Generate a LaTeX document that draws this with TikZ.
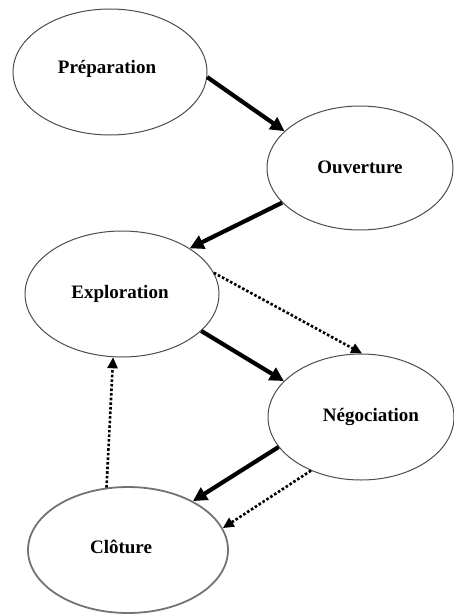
\documentclass[tikz,border=0pt]{standalone}
\usepackage{fontspec}
\setmainfont{Liberation Serif}
\usetikzlibrary{shapes.geometric,arrows.meta}
\tikzset{
  phase/.style={ellipse,draw=black!70,line width=1pt,inner sep=0pt},
  phaselabel/.style={font=\fontsize{19}{22}\selectfont\bfseries},
  solidarrow/.style={line width=4.2pt,-{Triangle[length=14pt,width=14pt]}},
  dotarrow/.style={line width=2.6pt,dash pattern=on 2.6pt off 2.0pt,
    -{Triangle[length=11pt,width=10pt]}},
}
\begin{document}
\begin{tikzpicture}[x=1pt,y=-1pt]
\useasboundingbox (0,0) rectangle (454,615);
\node[phase,minimum width=194pt,minimum height=126pt] (prep) at (110,72) {};
\node[phaselabel] (prept) at (107,69) {Préparation};
\node[phase,minimum width=186pt,minimum height=124pt] (ouv) at (360,168) {};
\node[phaselabel] (ouvt) at (360,167) {Ouverture};
\node[phase,minimum width=194pt,minimum height=126pt] (expl) at (122,294) {};
\node[phaselabel] (explt) at (120,294) {Exploration};
\node[phase,minimum width=186pt,minimum height=126pt] (neg) at (361,417) {};
\node[phaselabel] (negt) at (371,417) {Négociation};
\node[phase,draw=black!55,line width=1.8pt,minimum width=200pt,minimum height=126pt] (clo) at (128,550) {};
\node[phaselabel] (clot) at (121,547) {Clôture};

\draw[solidarrow] (prep.-3) -- (ouv.154);
\draw[solidarrow] (ouv.204) -- (expl.34);
\draw[dotarrow] (expl.13) -- (neg.89);
\draw[solidarrow] (expl.-25) -- (neg.155);
\draw[solidarrow] (neg.200) -- (clo.37);
\draw[dotarrow] (neg.227) -- (clo.13);
\draw[dotarrow] (clo.109) -- (expl.262);
\end{tikzpicture}
\end{document}
